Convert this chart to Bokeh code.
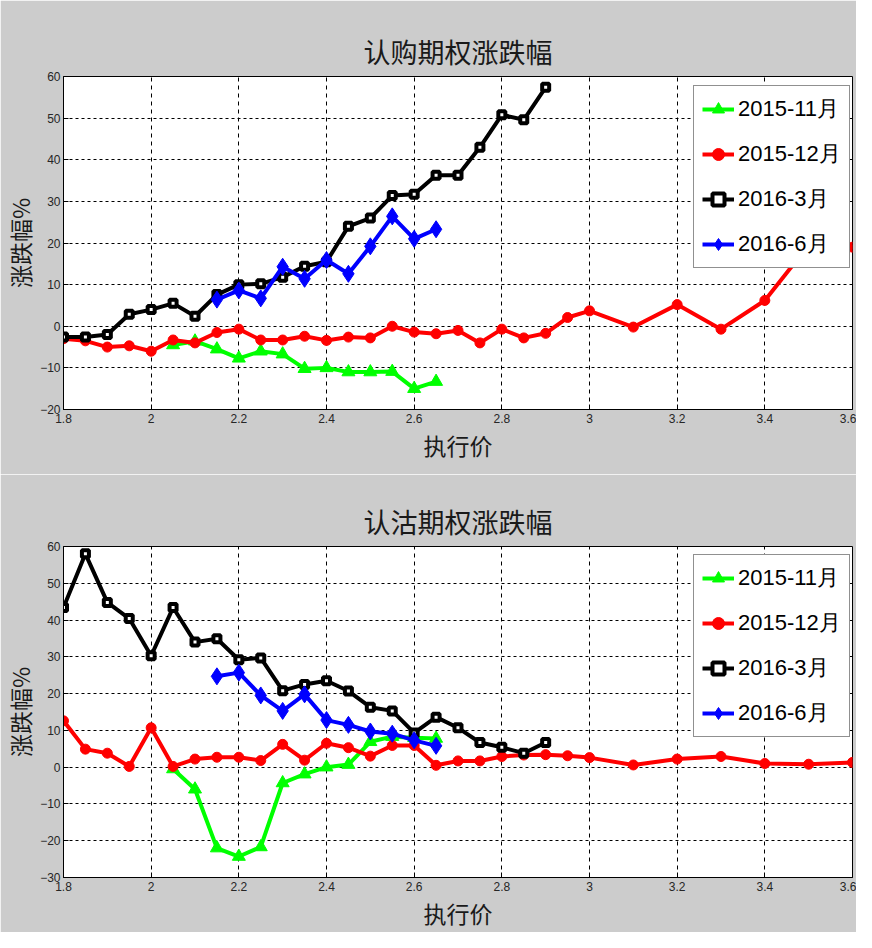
from bokeh.plotting import figure
from bokeh.models import Range1d, FixedTicker, Legend, LegendItem, CustomJSTickFormatter
from bokeh.layouts import column
from bokeh.embed import file_html
from bokeh.resources import INLINE

# ---------------- data ----------------
series_names = ["2015-11月", "2015-12月", "2016-3月", "2016-6月"]

x_nov = [2.05, 2.1, 2.15, 2.2, 2.25, 2.3, 2.35, 2.4, 2.45, 2.5, 2.55, 2.6, 2.65]
x_dec = [1.8, 1.85, 1.9, 1.95, 2.0, 2.05, 2.1, 2.15, 2.2, 2.25, 2.3, 2.35, 2.4,
         2.45, 2.5, 2.55, 2.6, 2.65, 2.7, 2.75, 2.8, 2.85, 2.9, 2.95, 3.0,
         3.1, 3.2, 3.3, 3.4, 3.5, 3.6]
x_mar = [1.8, 1.85, 1.9, 1.95, 2.0, 2.05, 2.1, 2.15, 2.2, 2.25, 2.3, 2.35, 2.4,
         2.45, 2.5, 2.55, 2.6, 2.65, 2.7, 2.75, 2.8, 2.85, 2.9]
x_jun = [2.15, 2.2, 2.25, 2.3, 2.35, 2.4, 2.45, 2.5, 2.55, 2.6, 2.65]

call_nov = [-4.5, -3.6, -5.5, -7.7, -6, -6.7, -10.2, -10, -11, -11, -10.9, -15, -13.3]
call_dec = [-3, -3.5, -5, -4.7, -6, -3.3, -4, -1.5, -0.7, -3.3, -3.3, -2.4, -3.4,
            -2.6, -2.8, 0, -1.4, -1.8, -1, -4, -0.7, -2.8, -1.7, 2.1, 3.7,
            -0.2, 5.2, -0.7, 6.2, 19.5, 19]
call_mar = [-2.6, -2.6, -2, 2.9, 4, 5.5, 2.4, 7.6, 10, 10.2, 11.8, 14.4, 15.5,
            24, 26, 31.4, 31.7, 36.3, 36.3, 43, 50.8, 49.6, 57.4]
call_jun = [6.4, 8.6, 6.7, 14.3, 11.4, 15.9, 12.6, 19.2, 26.4, 21, 23.3]

put_nov = [-0.5, -6, -22, -24.3, -21.7, -4.3, -1.9, 0, 0.7, 6.9, 8.3, 8, 7.8]
put_dec = [12.6, 4.9, 3.8, 0.2, 10.7, 0.2, 2.2, 2.7, 2.7, 1.8, 6.2, 1.9, 6.5,
           5.3, 3, 5.9, 5.9, 0.5, 1.7, 1.7, 2.9, 3.3, 3.4, 3.1, 2.6,
           0.6, 2.2, 2.9, 1, 0.8, 1.3]
put_mar = [43.4, 58, 44.8, 40.4, 30.3, 43.4, 34, 34.9, 29.2, 29.7, 20.8, 22.5, 23.5,
           20.7, 16.3, 15.3, 9.3, 13.6, 10.7, 6.7, 5.4, 3.8, 6.7]
put_jun = [24.7, 25.7, 19.5, 15.3, 19.8, 12.8, 11.5, 9.7, 9.1, 7.3, 5.8]

x_ticks = [1.8, 2.0, 2.2, 2.4, 2.6, 2.8, 3.0, 3.2, 3.4, 3.6]
call_y_ticks = [-20, -10, 0, 10, 20, 30, 40, 50, 60]
put_y_ticks = [-30, -20, -10, 0, 10, 20, 30, 40, 50, 60]

# ---------------- styles ----------------
colors = ["#00ff00", "#ff0000", "#000000", "#0000ff"]
markers = ["triangle", "circle", "square", "diamond"]
msizes = [13, 10, 7, 17]
mfill = ["#00ff00", "#ff0000", "white", "#0000ff"]
mline_w = [1, 1, 4, 1]

CJK = "Noto Sans CJK SC"
SANS = "Liberation Sans"
TICKC = "#262626"
BG = "#cccccc"


def make_chart(title, y_lo, y_hi, y_ticks, xs, ys, height, border_top,
               border_bottom, legend_loc):
    p = figure(width=856, height=height, output_backend="svg", toolbar_location=None,
               x_range=Range1d(1.8, 3.6), y_range=Range1d(y_lo, y_hi),
               min_border_left=60, min_border_right=4, min_border_top=border_top,
               min_border_bottom=border_bottom)
    p.border_fill_color = BG
    p.background_fill_color = "white"
    p.outline_line_color = "black"
    p.outline_line_width = 1

    p.title.text = title
    p.title.text_font = CJK
    p.title.text_font_size = "27px"
    p.title.text_font_style = "normal"
    p.title.text_color = "#1a1a1a"
    p.title.align = "center"
    p.title.standoff = 12

    for ax in (p.xaxis[0], p.yaxis[0]):
        ax.major_tick_in = 5
        ax.major_tick_out = 0
        ax.minor_tick_line_color = None
        ax.axis_line_color = "black"
        ax.major_tick_line_color = "black"
        ax.major_label_text_font = SANS
        ax.major_label_text_font_size = "12px"
        ax.major_label_text_color = TICKC
        ax.axis_label_text_font = CJK
        ax.axis_label_text_font_size = "23px"
        ax.axis_label_text_font_style = "normal"
        ax.axis_label_text_color = "#1a1a1a"

    p.xaxis[0].ticker = FixedTicker(ticks=x_ticks)
    p.xaxis[0].formatter = CustomJSTickFormatter(
        code="return (Math.round(tick*10)/10).toString();")
    p.xaxis[0].axis_label = "执行价"
    p.xaxis[0].major_label_standoff = 4
    p.xaxis[0].axis_label_standoff = 2

    p.yaxis[0].ticker = FixedTicker(ticks=y_ticks)
    p.yaxis[0].axis_label = "涨跌幅%"
    p.yaxis[0].major_label_standoff = 3
    p.yaxis[0].axis_label_standoff = 0

    p.xgrid.ticker = FixedTicker(ticks=x_ticks)
    p.ygrid.ticker = FixedTicker(ticks=y_ticks)
    p.xgrid.grid_line_color = "black"
    p.xgrid.grid_line_dash = "4 4"
    p.ygrid.grid_line_color = "black"
    p.ygrid.grid_line_dash = "3 3"
    p.xgrid.grid_line_width = 1
    p.ygrid.grid_line_width = 1

    items = []
    for i in range(4):
        lr = p.line(xs[i], ys[i], line_color=colors[i], line_width=4)
        sr = p.scatter(xs[i], ys[i], marker=markers[i], size=msizes[i],
                       fill_color=mfill[i], line_color=colors[i], line_width=mline_w[i])
        items.append(LegendItem(label=series_names[i], renderers=[lr, sr]))

    legend = Legend(items=items, location=legend_loc)
    legend.label_text_font = SANS
    legend.label_text_font_size = "22px"
    legend.label_text_color = "black"
    legend.glyph_width = 32
    legend.glyph_height = 30
    legend.label_height = 30
    legend.label_standoff = 4
    legend.spacing = 15
    legend.padding = 8
    legend.margin = 0
    legend.border_line_color = "#222222"
    legend.border_line_width = 1
    legend.background_fill_color = "white"
    legend.background_fill_alpha = 1
    p.add_layout(legend)
    return p


top = make_chart("认购期权涨跌幅", -20, 60, call_y_ticks,
                 [x_nov, x_dec, x_mar, x_jun],
                 [call_nov, call_dec, call_mar, call_jun],
                 474, 76, 65, (630, 141))
bottom = make_chart("认沽期权涨跌幅", -30, 60, put_y_ticks,
                    [x_nov, x_dec, x_mar, x_jun],
                    [put_nov, put_dec, put_mar, put_jun],
                    458, 72, 50, (630, 140))

layout = column(top, bottom, spacing=0)
open("out.html", "w").write(file_html(layout, INLINE))
